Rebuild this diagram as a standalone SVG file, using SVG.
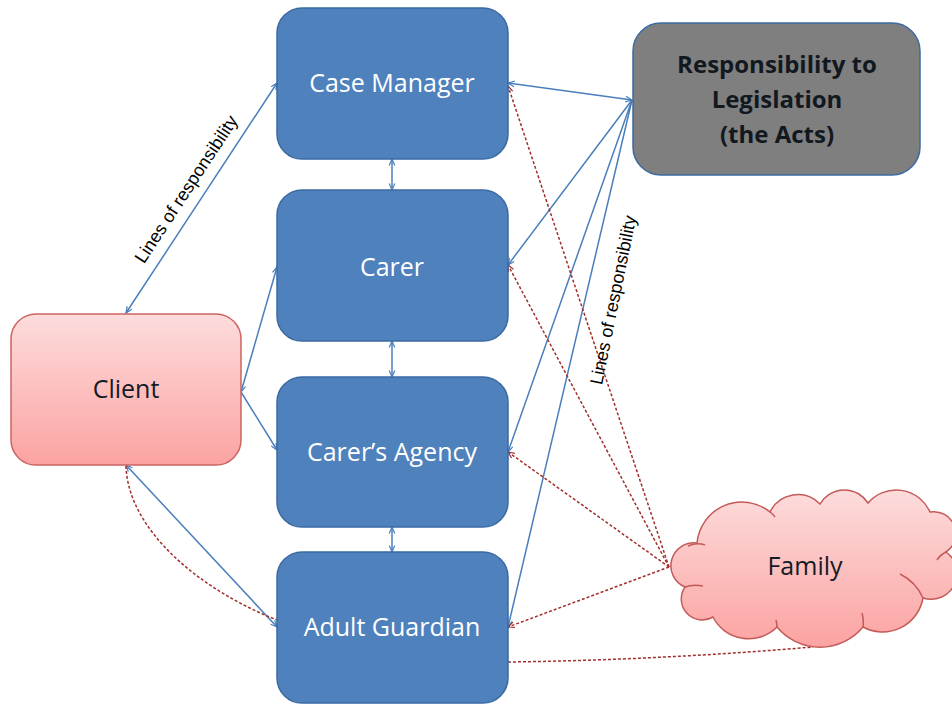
<svg xmlns="http://www.w3.org/2000/svg" width="952" height="704" viewBox="0 0 952 704">
<style>
.bx{fill:#4f81bd;stroke:#3b6aa3;stroke-width:1.5}
.bt{font-family:"Open Sans","Liberation Sans",sans-serif;font-size:25px;fill:#ffffff;text-anchor:middle}
.dt{font-family:"Open Sans","Liberation Sans",sans-serif;font-size:25px;fill:#141a26;text-anchor:middle}
.lt{font-family:"Open Sans","Liberation Sans",sans-serif;font-size:24px;font-weight:bold;fill:#121820;text-anchor:middle}
.lbl{font-family:"Liberation Sans",Arial,sans-serif;font-size:18px;fill:#000;text-anchor:middle}
.bl{fill:none;stroke:#4a7ebb;stroke-width:1.5}
.rd{fill:none;stroke:#a0302c;stroke-width:1.5;stroke-dasharray:3 2}
</style>
<defs>
<linearGradient id="pink" x1="0" y1="0" x2="0" y2="1">
<stop offset="0" stop-color="#fddcdc"/>
<stop offset="1" stop-color="#fba3a2"/>
</linearGradient>
<marker id="ab" viewBox="0 0 10 10" refX="9" refY="5" markerWidth="8" markerHeight="8" markerUnits="userSpaceOnUse" orient="auto-start-reverse">
<path d="M1,1.5 L9,5 L1,8.5" fill="none" stroke="#4a7ebb" stroke-width="1.5"/>
</marker>
<marker id="ar" viewBox="0 0 10 10" refX="9" refY="5" markerWidth="8" markerHeight="8" markerUnits="userSpaceOnUse" orient="auto-start-reverse">
<path d="M1,1.5 L9,5 L1,8.5" fill="none" stroke="#a0302c" stroke-width="1.5"/>
</marker>
</defs>
<rect width="952" height="704" fill="#ffffff"/>

<g id="connectors">
<line class="bl" x1="126" y1="313" x2="277" y2="83" marker-start="url(#ab)" marker-end="url(#ab)"/>
<line class="bl" x1="241" y1="392" x2="277" y2="267" marker-start="url(#ab)" marker-end="url(#ab)"/>
<line class="bl" x1="241" y1="392" x2="277" y2="450" marker-end="url(#ab)"/>
<line class="bl" x1="126" y1="465" x2="277" y2="627" marker-start="url(#ab)" marker-end="url(#ab)"/>
<line class="bl" x1="392" y1="159" x2="392" y2="190" marker-start="url(#ab)" marker-end="url(#ab)"/>
<line class="bl" x1="392" y1="341" x2="392" y2="377" marker-start="url(#ab)" marker-end="url(#ab)"/>
<line class="bl" x1="392" y1="527" x2="392" y2="552" marker-start="url(#ab)" marker-end="url(#ab)"/>
<line class="bl" x1="632" y1="100" x2="508" y2="83" marker-start="url(#ab)" marker-end="url(#ab)"/>
<line class="bl" x1="632" y1="100" x2="508" y2="265" marker-end="url(#ab)"/>
<line class="bl" x1="632" y1="100" x2="508" y2="452" marker-end="url(#ab)"/>
<line class="bl" x1="632" y1="100" x2="508" y2="627" marker-end="url(#ab)"/>
<line class="rd" x1="669" y1="567" x2="508" y2="86" marker-end="url(#ar)"/>
<line class="rd" x1="669" y1="567" x2="508" y2="265" marker-end="url(#ar)"/>
<line class="rd" x1="669" y1="567" x2="508" y2="452" marker-end="url(#ar)"/>
<line class="rd" x1="669" y1="567" x2="508" y2="627" marker-end="url(#ar)"/>
<path class="rd" d="M508,662 Q660,660 813,647"/>
<path class="rd" d="M126,466 C128,530 200,590 277,620"/>
<text class="lbl" transform="translate(186,189) rotate(-56.7)" dy="0.35em">Lines of responsibility</text>
<text class="lbl" transform="translate(613,300) rotate(-78.5)" dy="0.35em">Lines of responsibility</text>
</g>

<g id="case-manager">
<rect class="bx" x="277" y="8" width="231" height="151" rx="25"/>
<text class="bt" x="392" y="92">Case Manager</text>
</g>
<g id="carer">
<rect class="bx" x="277" y="190" width="231" height="151" rx="25"/>
<text class="bt" x="392" y="276">Carer</text>
</g>
<g id="carers-agency">
<rect class="bx" x="277" y="377" width="231" height="150" rx="25"/>
<text class="bt" x="392" y="461">Carer’s Agency</text>
</g>
<g id="adult-guardian">
<rect class="bx" x="277" y="552" width="231" height="151" rx="25"/>
<text class="bt" x="392" y="636">Adult Guardian</text>
</g>
<g id="legislation">
<rect x="633" y="23" width="287" height="152" rx="28" fill="#7f7f7f" stroke="#3d6aa2" stroke-width="1.5"/>
<text class="lt" x="777" y="73">Responsibility to</text>
<text class="lt" x="777" y="108">Legislation</text>
<text class="lt" x="777" y="143">(the Acts)</text>
</g>
<g id="client">
<rect x="11" y="314" width="230" height="151" rx="25" fill="url(#pink)" stroke="#cc6462" stroke-width="1.5"/>
<text class="dt" x="126" y="398">Client</text>
</g>
<g id="family">
<path d="M685,587 A23,23 0 0 1 697,543 A45,45 0 0 1 770,512 A31,31 0 0 1 820,504 A28,28 0 0 1 868,503 A37,37 0 0 1 930,512 A22,22 0 0 1 946,552 A26,26 0 0 1 923,598 A41,41 0 0 1 863,627 A56,56 0 0 1 777,627 A40,40 0 0 1 713,617 A21,21 0 0 1 685,587 Z" fill="url(#pink)" stroke="#c45a58" stroke-width="1.5"/>
<path d="M688,546 Q697,542 705,545 M685,587 Q693,584 703,586 M900,574 Q916,582 923,598 M946,552 Q940,555 937,560 M863,627 Q864,620 862,613 M777,627 Q777,624 776,620 M770,512 Q773,514 775,517" fill="none" stroke="#c45a58" stroke-width="1.5"/>
<text class="dt" x="805" y="575">Family</text>
</g>
</svg>
